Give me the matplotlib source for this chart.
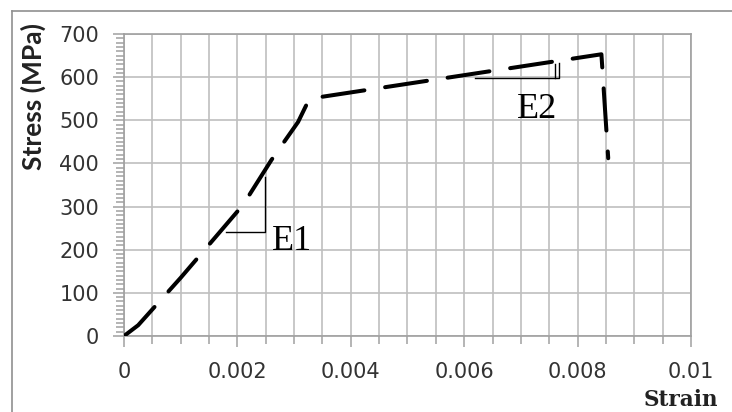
import numpy as np
import matplotlib.pyplot as plt
from matplotlib.lines import Line2D
from matplotlib.ticker import MultipleLocator, FixedLocator

# stress-strain curve
strain = [0, 0.00025, 0.001, 0.0021, 0.0026, 0.00307, 0.00327, 0.00842, 0.00854]
stress = [0, 25, 135, 304, 408, 496, 550, 653, 412]

x_ticks = [0, 0.002, 0.004, 0.006, 0.008, 0.01]
x_tick_labels = ['0', '0.002', '0.004', '0.006', '0.008', '0.01']

# slope triangles for E1 and E2
e1_x = [0.0018, 0.00249, 0.00249]
e1_y = [241, 241, 368]
e2_x = [0.00619, 0.00767, 0.00767]
e2_y = [598, 598, 632]
e2_inner_x = [0.0076, 0.0076]
e2_inner_y = [598, 630]

labels = ["E1", "E2"]
label_x = [0.00296, 0.00729]
label_y = [220, 525]

fig = plt.figure(figsize=(7.32, 4.12), dpi=100)
ax = fig.add_axes([124/732, 1 - 336/412, 567/732, 302/412])

grid_c = '#bfbfbf'
ax.plot(strain, stress, color='black', lw=2.9, linestyle=(0, (10.5, 5.2)),
        dash_capstyle='round', solid_joinstyle='miter', zorder=3)

ax.plot(e1_x, e1_y, color='black', lw=1.0, zorder=2)
ax.plot(e2_x, e2_y, color='black', lw=1.0, zorder=2)
ax.plot(e2_inner_x, e2_inner_y, color='black', lw=1.0, zorder=2)
for t, x, y in zip(labels, label_x, label_y):
    ax.text(x, y, t, fontsize=26, family='Liberation Serif',
            ha='center', va='center', zorder=4)

ax.set_xlim(0, 0.01)
ax.set_ylim(0, 700)
ax.xaxis.set_major_locator(FixedLocator(x_ticks))
ax.xaxis.set_minor_locator(MultipleLocator(0.0005))
ax.set_xticklabels(x_tick_labels)
ax.yaxis.set_major_locator(MultipleLocator(100))
ax.yaxis.set_minor_locator(MultipleLocator(10))

ax.grid(which='major', axis='y', color=grid_c, lw=1.2)
ax.grid(which='minor', axis='x', color=grid_c, lw=1.2)
ax.grid(which='major', axis='x', color=grid_c, lw=1.2)
ax.set_axisbelow(True)

for s in ax.spines.values():
    s.set_color('#a0a0a0')
    s.set_linewidth(1.2)

ax.tick_params(axis='both', which='both', colors='#a0a0a0', labelcolor='#333333',
               labelsize=15, width=1.1)
ax.tick_params(axis='x', which='major', length=8, pad=11)
ax.tick_params(axis='x', which='minor', length=6)
ax.tick_params(axis='y', which='major', length=8, pad=10)
ax.tick_params(axis='y', which='minor', length=6)

fig.text(33/732, 1 - 96/412, 'Stress (MPa)', rotation=90, ha='center', va='center',
         fontsize=19, fontweight='bold', family='Lato', color='#222222')
fig.text(681/732, 1 - 400/412, 'Strain', ha='center', va='center',
         fontsize=15.5, fontweight='bold', family='DejaVu Serif', color='#222222')

# outer chart border (cropped on right and bottom)
fig.add_artist(Line2D([12/732, 1], [1 - 11/412, 1 - 11/412], transform=fig.transFigure,
                      color='#909090', lw=1.2))
fig.add_artist(Line2D([12/732, 12/732], [0, 1 - 11/412], transform=fig.transFigure,
                      color='#909090', lw=1.2))

fig.savefig('out.png', dpi=100)
